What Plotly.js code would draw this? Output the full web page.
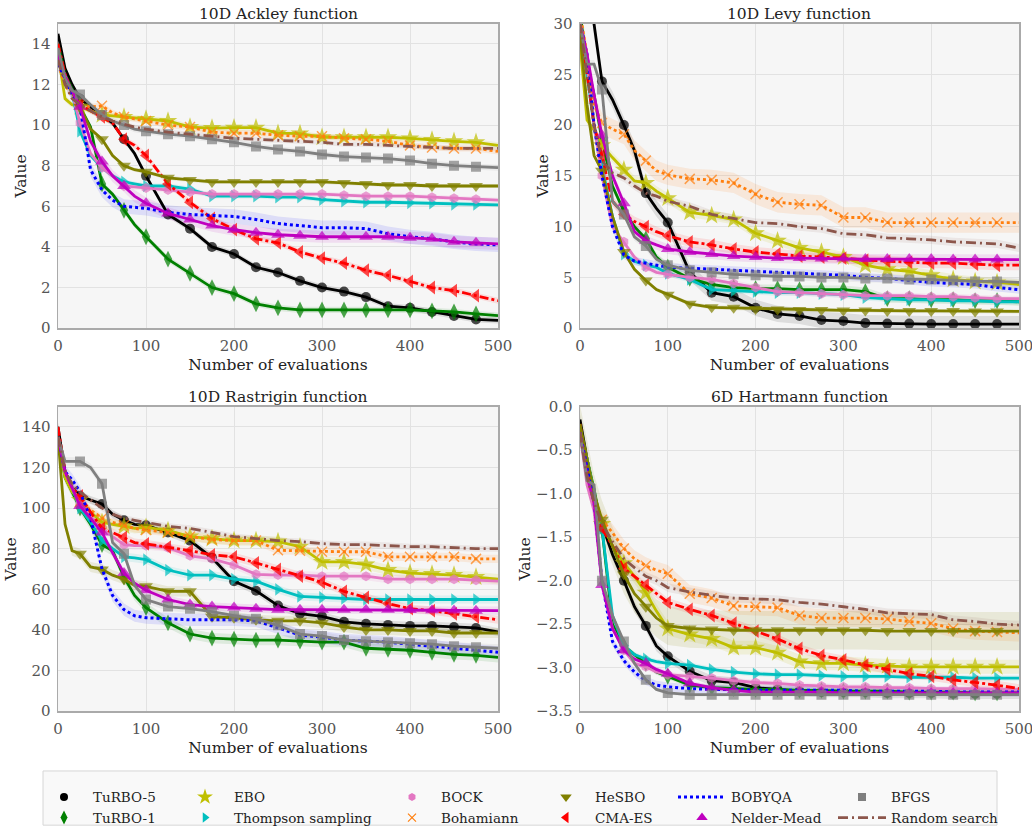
<!DOCTYPE html>
<html>
<head>
<meta charset="utf-8">
<script src="https://cdn.plot.ly/plotly-3.0.1.min.js"></script>
<style>html,body{margin:0;padding:0;background:#fff;}#chart{width:1032px;height:834px;}</style>
</head>
<body>
<div id="chart"></div>
<script>
// Evaluation grid (number of evaluations)
const evals = [0,8,16,25,37,50,62,75,87,100,125,150,175,200,225,250,275,300,325,350,375,400,425,450,475,500];

const methods = ["TuRBO-5","TuRBO-1","EBO","Thompson sampling","BOCK","Bohamiann","CMA-ES","HeSBO","BOBYQA","Nelder-Mead","BFGS","Random search"];

// ---- 10D Ackley ----
const ackley_turbo5 = [14.5,12.8,12.0,11.3,10.9,10.5,10.1,9.3,8.6,7.5,5.6,4.9,4.0,3.65,3.0,2.74,2.33,2.0,1.8,1.53,1.08,1.0,0.8,0.6,0.43,0.38];
const ackley_turbo1 = [14.0,12.5,11.8,10.9,9.9,7.1,6.6,5.8,5.1,4.5,3.4,2.7,2.0,1.7,1.2,1.0,0.9,0.9,0.9,0.9,0.9,0.9,0.85,0.8,0.7,0.62];
const ackley_ebo = [13.5,11.3,11.0,10.9,10.7,10.5,10.45,10.4,10.35,10.3,10.2,9.9,9.85,9.87,9.87,9.6,9.58,9.4,9.4,9.4,9.4,9.34,9.26,9.2,9.15,9.0];
const ackley_ts = [13.2,12.3,11.6,9.7,8.5,7.9,7.5,7.2,7.1,7.0,7.0,6.85,6.5,6.5,6.5,6.45,6.45,6.33,6.25,6.2,6.2,6.17,6.15,6.1,6.09,6.07];
const ackley_bock = [13.3,12.4,11.6,10.1,8.6,7.9,7.5,7.0,6.95,6.9,6.8,6.7,6.6,6.6,6.6,6.6,6.6,6.6,6.55,6.5,6.5,6.5,6.45,6.4,6.35,6.3];
const ackley_bohamiann = [13.0,12.0,11.4,11.0,10.9,10.95,10.6,10.4,10.3,10.2,10.0,9.9,9.65,9.6,9.6,9.5,9.45,9.45,9.35,9.3,9.2,9.0,8.9,8.85,8.85,8.7];
const ackley_cmaes = [14.0,12.5,11.6,11.0,10.7,10.4,10.1,9.3,9.0,8.5,7.1,6.2,5.4,4.85,4.4,4.2,3.75,3.45,3.2,2.85,2.6,2.3,2.0,1.85,1.6,1.35];
const ackley_hesbo = [13.5,12.3,11.6,10.9,9.8,9.3,8.5,8.0,7.8,7.7,7.4,7.3,7.2,7.2,7.2,7.2,7.2,7.2,7.15,7.1,7.05,7.05,7.0,7.0,7.0,7.0];
const ackley_bobyqa = [13.0,12.3,11.5,10.9,7.8,6.8,6.3,6.0,5.95,5.9,5.7,5.6,5.55,5.5,5.35,5.15,5.05,4.95,4.95,4.9,4.65,4.5,4.4,4.25,4.15,4.1];
const ackley_nm = [13.5,12.4,11.7,10.9,9.2,8.2,7.5,7.0,6.5,6.15,5.65,5.35,5.05,4.85,4.7,4.6,4.55,4.5,4.5,4.5,4.5,4.45,4.4,4.25,4.2,4.15];
const ackley_bfgs = [13.8,12.3,11.7,11.5,11.0,10.5,10.2,10.0,9.8,9.7,9.55,9.45,9.3,9.15,8.95,8.8,8.7,8.55,8.45,8.4,8.35,8.25,8.1,8.0,7.95,7.9];
const ackley_random = [13.2,12.0,11.3,11.0,10.7,10.4,10.2,10.05,9.9,9.8,9.65,9.55,9.45,9.35,9.3,9.25,9.2,9.15,9.05,9.05,9.0,8.95,8.9,8.85,8.85,8.85];
const ackley_err = [0.15,0.15,0.15,0.12,0.12,0.15,0.15,0.1,0.35,0.3,0.15,0.12];

// ---- 10D Levy ----
const levy_turbo5 = [40,35,29.5,24.3,22.5,20.0,17.5,13.3,11.8,10.4,5.5,3.5,3.1,2.0,1.4,1.2,0.8,0.7,0.5,0.45,0.45,0.4,0.4,0.4,0.4,0.4];
const levy_turbo1 = [31,26,23,18.5,14,11.5,10.0,8.8,7.0,6.0,4.9,4.3,4.0,3.9,3.9,3.8,3.8,3.8,3.6,2.9,2.9,2.8,2.8,2.7,2.7,2.6];
const levy_ebo = [28,20.5,19.5,18.0,16.8,15.6,14.5,14.3,13.5,12.8,11.4,11.1,10.7,9.35,8.6,7.9,7.5,7.0,6.2,5.8,5.6,5.2,4.8,4.6,4.5,4.3];
const levy_ts = [30,25,20,16,11,7.3,6.6,6.2,6.0,5.4,4.8,3.8,3.7,3.6,3.5,3.5,3.4,3.3,3.0,2.9,2.8,2.8,2.7,2.7,2.6,2.6];
const levy_bock = [30,26,20,15,10,8.5,7.0,6.0,5.5,5.3,5.0,4.8,4.4,4.0,3.6,3.5,3.4,3.3,3.2,3.2,3.2,3.1,3.1,3.0,2.9,2.9];
const levy_bohamiann = [31,27,22,20.2,19.6,19.1,17.5,16.5,15.5,15.1,14.7,14.6,14.3,13.2,12.4,12.2,12.1,10.9,10.9,10.4,10.4,10.4,10.4,10.4,10.4,10.4];
const levy_cmaes = [30,25,20,17.0,12.5,11.2,10.5,10.0,9.5,9.1,8.5,8.2,7.8,7.5,7.3,7.1,7.0,6.9,6.7,6.6,6.5,6.4,6.4,6.3,6.2,6.2];
const levy_hesbo = [29,22,17,15.5,11,7.5,5.8,4.7,3.8,3.3,2.4,2.05,2.0,1.9,1.85,1.8,1.8,1.75,1.75,1.7,1.7,1.7,1.7,1.65,1.65,1.65];
const levy_bobyqa = [30,27,20,15,10,7.2,6.6,6.4,6.2,6.0,5.9,5.8,5.7,5.6,5.5,5.4,5.3,5.2,5.0,4.9,4.7,4.5,4.4,4.3,4.0,3.8];
const levy_nm = [30,27,23,19,15,12.3,9.5,8.6,8.2,7.8,7.5,7.3,7.1,7.0,6.9,6.9,6.85,6.85,6.8,6.8,6.8,6.8,6.75,6.75,6.75,6.75];
const levy_bfgs = [30,26,26,23.5,12.5,11.2,9.0,8.1,6.8,6.2,5.7,5.5,5.3,5.2,5.1,5.1,5.0,5.0,4.9,4.9,4.8,4.8,4.7,4.6,4.6,4.5];
const levy_random = [30,25,20,16.5,15.3,14.8,14.0,13.3,13.0,12.5,12.0,11.2,10.8,10.4,10.3,10.0,9.8,9.3,9.2,8.9,8.8,8.7,8.5,8.4,8.3,7.9];
const levy_err = [0.8,0.4,0.5,0.3,0.3,1.0,0.5,0.2,0.4,0.5,0.4,0.4];

// ---- 10D Rastrigin ----
const rastrigin_turbo5 = [140,118,110,106,104,102,97,94,92,91.5,88,84,75.5,64,59.3,52,48,46.7,44,43,42.5,42,42,41.5,41,39];
const rastrigin_turbo1 = [135,115,108,100,92,82,79,66,57,51,43.5,38,36,35.5,35,35,34.5,34,34,31,30.5,30,29,28,27.5,26.5];
const rastrigin_ebo = [135,115,108,104,98,93,92,91,90,90.5,89,86,85,84,84,83.5,81,73.5,73.5,72.2,69.5,68,67.5,67,66,65];
const rastrigin_ts = [135,118,110,100,93,84,80,76,75.5,74.6,69.5,67,67,65,64,60,56.5,56,55.5,55,55,55,55,55,55,55];
const rastrigin_bock = [135,118,110,103,96,90,86,82,81.5,81.5,80.5,76.5,75,72,67.4,67,67,66.5,66.5,66.5,65,65,65,65,64.5,64];
const rastrigin_bohamiann = [135,118,110,103,99,95,93,91.5,90,89.2,88,86,84.5,84,84,79.2,79,78.5,78.5,78.5,76,76,76,76,75,75];
const rastrigin_cmaes = [140,118,110,106,98,90,88,85.6,83,82.4,80.8,79,77,76,73,69.8,66.5,63.5,59,56,53,50.5,49.5,48,46.5,45];
const rastrigin_hesbo = [135,92,79,77.5,71,69.8,67,65,62,61.5,59,59,46.5,46,45,44.5,44.5,43.5,41.5,40,40,39.5,39.5,38.5,38.5,38.5];
const rastrigin_bobyqa = [135,118,114,108,95,70,57,50,47,46,45.5,45,45,45,44.5,41,37.5,36.5,35,34.5,34,33,32,31,30,29];
const rastrigin_nm = [135,118,110,101,95,88,78,68,63,59.5,55,52.5,51.5,51,50.5,50,50,50,50,50,50,49.8,49.7,49.6,49.5,49.5];
const rastrigin_bfgs = [135,123,123,123,120,112,83,77.5,62,55,51.5,50.5,49,47,45.5,42.3,38,37,35,34.5,34,33.5,33,32,31.5,31];
const rastrigin_random = [135,118,112,108,104,100,97,95,94,93,91,90,88,86,85,84,83.5,82.5,82,82,81.5,81,81,80.5,80,80];
const rastrigin_err = [2,2.5,2.5,2,2,2,2,2.5,3,2,2,1.5];

// ---- 6D Hartmann ----
const hartmann_turbo5 = [-0.15,-0.6,-1.0,-1.35,-1.7,-2.0,-2.3,-2.52,-2.75,-2.87,-3.04,-3.15,-3.17,-3.23,-3.25,-3.27,-3.28,-3.28,-3.28,-3.29,-3.29,-3.29,-3.3,-3.3,-3.3,-3.3];
const hartmann_turbo1 = [-0.3,-0.6,-0.95,-1.4,-2.5,-2.75,-2.85,-2.95,-3.05,-3.1,-3.2,-3.23,-3.24,-3.25,-3.25,-3.26,-3.26,-3.27,-3.27,-3.27,-3.28,-3.28,-3.28,-3.29,-3.29,-3.29];
const hartmann_ebo = [-0.25,-0.6,-1.0,-1.35,-1.6,-1.8,-1.95,-2.14,-2.35,-2.55,-2.62,-2.67,-2.77,-2.77,-2.83,-2.93,-2.95,-2.95,-2.97,-2.98,-2.99,-2.99,-2.99,-2.99,-2.99,-2.99];
const hartmann_ts = [-0.3,-0.6,-1.0,-1.4,-2.4,-2.75,-2.85,-2.9,-2.93,-2.95,-2.97,-3.02,-3.05,-3.07,-3.08,-3.08,-3.09,-3.1,-3.1,-3.1,-3.11,-3.11,-3.11,-3.12,-3.12,-3.12];
const hartmann_bock = [-0.3,-0.9,-1.2,-2.0,-2.55,-2.8,-2.95,-2.99,-3.05,-3.08,-3.1,-3.12,-3.15,-3.17,-3.18,-3.2,-3.21,-3.22,-3.22,-3.23,-3.23,-3.24,-3.24,-3.24,-3.25,-3.25];
const hartmann_bohamiann = [-0.3,-0.8,-1.1,-1.3,-1.45,-1.63,-1.75,-1.83,-1.88,-1.92,-2.15,-2.2,-2.29,-2.3,-2.31,-2.4,-2.43,-2.43,-2.43,-2.44,-2.47,-2.49,-2.55,-2.58,-2.59,-2.6];
const hartmann_cmaes = [-0.2,-0.7,-1.1,-1.4,-1.6,-1.86,-1.95,-2.05,-2.15,-2.25,-2.33,-2.4,-2.49,-2.58,-2.67,-2.78,-2.86,-2.91,-2.97,-3.02,-3.07,-3.1,-3.14,-3.17,-3.2,-3.24];
const hartmann_hesbo = [-0.2,-0.6,-1.0,-1.3,-1.6,-1.93,-2.15,-2.3,-2.43,-2.52,-2.55,-2.56,-2.57,-2.57,-2.57,-2.57,-2.57,-2.57,-2.57,-2.58,-2.58,-2.58,-2.58,-2.58,-2.58,-2.58];
const hartmann_bobyqa = [-0.3,-0.7,-1.1,-2.0,-2.7,-2.92,-3.05,-3.15,-3.2,-3.22,-3.24,-3.25,-3.25,-3.26,-3.26,-3.26,-3.26,-3.26,-3.27,-3.27,-3.27,-3.27,-3.28,-3.28,-3.28,-3.28];
const hartmann_nm = [-0.3,-0.8,-1.1,-2.05,-2.55,-2.8,-2.9,-2.95,-3.02,-3.07,-3.18,-3.23,-3.26,-3.28,-3.28,-3.28,-3.28,-3.29,-3.29,-3.29,-3.29,-3.29,-3.29,-3.29,-3.29,-3.29];
const hartmann_bfgs = [-0.3,-0.85,-0.9,-2.0,-2.4,-2.7,-2.95,-3.14,-3.25,-3.29,-3.31,-3.31,-3.31,-3.31,-3.31,-3.31,-3.31,-3.31,-3.31,-3.31,-3.31,-3.31,-3.31,-3.31,-3.31,-3.31];
const hartmann_random = [-0.3,-0.8,-1.1,-1.35,-1.55,-1.75,-1.85,-1.95,-2.0,-2.08,-2.13,-2.17,-2.2,-2.21,-2.22,-2.25,-2.27,-2.3,-2.33,-2.37,-2.38,-2.39,-2.45,-2.47,-2.5,-2.51];
const hartmann_err = [0.06,0.03,0.08,0.03,0.03,0.1,0.05,0.22,0.05,0.03,0.02,0.05];

const panels = [
  {title:"10D Ackley function", xa:"x", ya:"y", err:ackley_err,
   data:[ackley_turbo5,ackley_turbo1,ackley_ebo,ackley_ts,ackley_bock,ackley_bohamiann,ackley_cmaes,ackley_hesbo,ackley_bobyqa,ackley_nm,ackley_bfgs,ackley_random]},
  {title:"10D Levy function", xa:"x2", ya:"y2", err:levy_err,
   data:[levy_turbo5,levy_turbo1,levy_ebo,levy_ts,levy_bock,levy_bohamiann,levy_cmaes,levy_hesbo,levy_bobyqa,levy_nm,levy_bfgs,levy_random]},
  {title:"10D Rastrigin function", xa:"x3", ya:"y3", err:rastrigin_err,
   data:[rastrigin_turbo5,rastrigin_turbo1,rastrigin_ebo,rastrigin_ts,rastrigin_bock,rastrigin_bohamiann,rastrigin_cmaes,rastrigin_hesbo,rastrigin_bobyqa,rastrigin_nm,rastrigin_bfgs,rastrigin_random]},
  {title:"6D Hartmann function", xa:"x4", ya:"y4", err:hartmann_err,
   data:[hartmann_turbo5,hartmann_turbo1,hartmann_ebo,hartmann_ts,hartmann_bock,hartmann_bohamiann,hartmann_cmaes,hartmann_hesbo,hartmann_bobyqa,hartmann_nm,hartmann_bfgs,hartmann_random]}
];

// styles
const colors = ["#000000","#008000","#bfbf00","#00bfbf","#e377c2","#ff7f0e","#ff0000","#808000","#0000ff","#bf00bf","#7f7f7f","#8c564b"];
const fills  = ["rgba(0,0,0,0.10)","rgba(0,128,0,0.10)","rgba(191,191,0,0.12)","rgba(0,191,191,0.10)","rgba(227,119,194,0.12)","rgba(255,127,14,0.12)","rgba(255,0,0,0.10)","rgba(128,128,0,0.12)","rgba(0,0,255,0.10)","rgba(191,0,191,0.10)","rgba(127,127,127,0.10)","rgba(140,86,75,0.10)"];
const symbols = ["circle","diamond-tall","star","triangle-right","hexagon","x-thin-open","triangle-left","triangle-down",null,"triangle-up","square",null];
const msizes = [10,12,14,11,10,10,12,12,0,12,10,0];
const dashes = ["solid","solid","solid","solid","solid","dot","dashdot","solid","dot","solid","solid","10px,4px,2px,4px"];
const lwidths = [2.8,2.8,2.8,2.8,2.8,2.8,2.8,2.8,3,2.8,2.8,2.8];

const traces = [];
panels.forEach(p => {
  p.data.forEach((vals, i) => {
    const e = p.err[i];
    const up = vals.map(v => v + e);
    const lo = vals.map(v => v - e);
    traces.push({
      type:"scatter", mode:"lines", xaxis:p.xa, yaxis:p.ya,
      x: evals.concat(evals.slice().reverse()),
      y: up.concat(lo.slice().reverse()),
      fill:"toself", fillcolor:fills[i], line:{width:0, color:"rgba(0,0,0,0)"},
      hoverinfo:"skip", showlegend:false
    });
  });
  p.data.forEach((vals, i) => {
    const hasMarker = symbols[i] !== null;
    const sizes = evals.map(x => (x > 0 && x < 500 && x % 25 === 0) ? msizes[i] : 0);
    const t = {
      type:"scatter", mode: hasMarker ? "lines+markers" : "lines",
      xaxis:p.xa, yaxis:p.ya, x:evals, y:vals, name:methods[i], showlegend:false,
      line:{color:colors[i], width:lwidths[i], dash:dashes[i]}
    };
    if (hasMarker) {
      t.marker = {symbol:symbols[i], size:sizes, color:colors[i],
        line: symbols[i]==="x-thin-open" ? {color:colors[i], width:1.5} : {width:0}};
    }
    traces.push(t);
  });
});

// legend: six columns, each its own Plotly legend with two entries
const legendCols = [[0,1],[2,3],[4,5],[7,6],[8,9],[10,11]];
const legendX = [35,176,383,537,673,833];
legendCols.forEach((col, c) => {
  col.forEach(i => {
    const hasMarker = symbols[i] !== null;
    const t = {type:"scatter", x:[null], y:[null], xaxis:"x", yaxis:"y", name:methods[i],
      showlegend:true, hoverinfo:"skip", legend: c === 0 ? "legend" : "legend" + (c+1)};
    if (hasMarker) {
      t.mode = "markers";
      t.marker = {symbol:symbols[i], size:msizes[i]-2, color:colors[i],
        line: symbols[i]==="x-thin-open" ? {color:colors[i], width:1.2} : {width:0}};
    } else {
      t.mode = "lines";
      t.line = {color:colors[i], width:lwidths[i], dash:dashes[i]};
    }
    traces.push(t);
  });
});

const W = 1032, H = 834;
const FONT = "DejaVu Serif";
const xL = [58/W, 498/W], xR = [580/W, 1019/W];
const yT = [1-335/H, 1-24/H], yB = [1-726/H, 1-415/H];

function xax(domain, anchor) {
  return {domain:domain, anchor:anchor, range:[0,500], dtick:100, tick0:0,
    showgrid:true, gridcolor:"#e2e2e2", gridwidth:1, zeroline:false,
    showline:true, linecolor:"#aaaaaa", linewidth:1.5, mirror:true, ticks:"",
    ticklabelstandoff:3, ticklabeloverflow:"allow",
    tickfont:{family:FONT, size:15, color:"#555555"},
    title:{text:"Number of evaluations", font:{family:FONT, size:15.5, color:"#222222"}, standoff:5}};
}
function yax(domain, anchor, range, dtick, fmt) {
  return {domain:domain, anchor:anchor, range:range, dtick:dtick, tick0:0,
    showgrid:true, gridcolor:"#e2e2e2", gridwidth:1, zeroline:false,
    showline:true, linecolor:"#aaaaaa", linewidth:1.5, mirror:true, ticks:"",
    ticklabelstandoff:3, tickformat:fmt, ticklabeloverflow:"allow",
    tickfont:{family:FONT, size:15, color:"#555555"},
    title:{text:"Value", font:{family:FONT, size:15.5, color:"#222222"}, standoff:1}};
}

const annotations = panels.map((p, k) => {
  const dom = (k % 2 === 0) ? xL : xR;
  const ytop = (k < 2) ? 14 : 405;
  return {text:p.title, xref:"paper", yref:"paper", x:(dom[0]+dom[1])/2, y:1-ytop/H,
    xanchor:"center", yanchor:"middle", showarrow:false,
    font:{family:FONT, size:15.5, color:"#222222"}};
});

function legendBox(c) {
  return {orientation:"v", x:legendX[c]/W, y:1-798/H, xanchor:"left", yanchor:"top",
    bgcolor:"rgba(0,0,0,0)", borderwidth:0, itemwidth:48, traceorder:"normal",
    tracegroupgap:0, font:{family:FONT, size:13.5, color:"#222222"}};
}

const layout = {
  width:W, height:H, margin:{l:0, r:0, t:0, b:0},
  paper_bgcolor:"#ffffff", plot_bgcolor:"#f6f6f6",
  font:{family:FONT, color:"#222222"},
  xaxis: xax(xL, "y"),  yaxis: yax(yT, "x", [0,15], 2, ""),
  xaxis2: xax(xR, "y2"), yaxis2: yax(yT, "x2", [0,30], 5, ""),
  xaxis3: xax(xL, "y3"), yaxis3: yax(yB, "x3", [0,150], 20, ""),
  xaxis4: xax(xR, "y4"), yaxis4: yax(yB, "x4", [-3.5,0], 0.5, ".1f"),
  annotations: annotations,
  shapes:[{type:"rect", xref:"paper", yref:"paper", x0:43/W, x1:997/W, y0:-0.01, y1:1-787/H,
    fillcolor:"#f9f9f9", line:{color:"#d6d6d6", width:1}, layer:"below"}],
  showlegend:true,
  legend: legendBox(0), legend2: legendBox(1), legend3: legendBox(2),
  legend4: legendBox(3), legend5: legendBox(4), legend6: legendBox(5)
};

Plotly.newPlot("chart", traces, layout, {displayModeBar:false, staticPlot:true});
</script>
</body>
</html>
